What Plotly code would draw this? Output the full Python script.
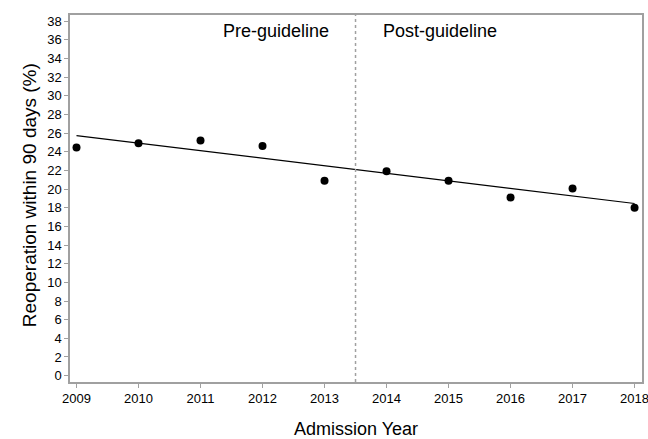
import plotly.graph_objects as go

years = [2009, 2010, 2011, 2012, 2013, 2014, 2015, 2016, 2017, 2018]
reoperation = [24.45, 24.9, 25.2, 24.6, 20.9, 21.9, 20.9, 19.1, 20.05, 18.0]
fit_years = [2009, 2018]
fit_values = [25.72, 18.45]
cutoff_year = 2013.5
y_ticks = list(range(0, 39, 2))

FONT = "Liberation Sans, Arial, sans-serif"

fig = go.Figure()
fig.add_trace(go.Scatter(x=fit_years, y=fit_values, mode="lines",
                         line=dict(color="black", width=1.2), showlegend=False))
fig.add_trace(go.Scatter(x=years, y=reoperation, mode="markers",
                         marker=dict(color="black", size=8), showlegend=False))

fig.add_shape(type="line", x0=cutoff_year, x1=cutoff_year, y0=0, y1=1, yref="paper",
              line=dict(color="#a0a0a0", width=1.5, dash="dot"))

fig.add_annotation(x=2012.22, y=36.9, text="Pre-guideline", showarrow=False,
                   font=dict(size=18, color="black", family=FONT))
fig.add_annotation(x=2014.87, y=36.9, text="Post-guideline", showarrow=False,
                   font=dict(size=18, color="black", family=FONT))

# axis titles
fig.add_annotation(xref="paper", yref="paper", x=0.5, y=-0.128, xanchor="center", yanchor="middle",
                   text="Admission Year", showarrow=False,
                   font=dict(size=18, color="black", family=FONT))
fig.add_annotation(xref="paper", yref="paper", x=-0.0717, y=0.509, xanchor="center", yanchor="middle",
                   text="Reoperation within 90 days (%)", showarrow=False, textangle=-90,
                   font=dict(size=19, color="black", family=FONT))

axis_common = dict(showline=True, linecolor="#a0a0a0", linewidth=1.5, mirror=True,
                   ticks="outside", ticklen=4, tickcolor="#a0a0a0", showgrid=False,
                   zeroline=False, tickfont=dict(size=13, color="black", family=FONT),
                   automargin=False, ticklabeloverflow="allow")

fig.update_xaxes(range=[2008.895, 2018.12], tickvals=years, **axis_common)
fig.update_yaxes(range=[-0.68, 38.65], tickvals=y_ticks, **axis_common)

fig.update_layout(width=648, height=439, margin=dict(l=70, r=6, t=15, b=57, autoexpand=False),
                  plot_bgcolor="white", paper_bgcolor="white",
                  font=dict(family=FONT, color="black"))

fig.write_html("out.html", config={"displayModeBar": False},
               post_script="document.body.style.margin='0';document.body.style.overflow='hidden';")
